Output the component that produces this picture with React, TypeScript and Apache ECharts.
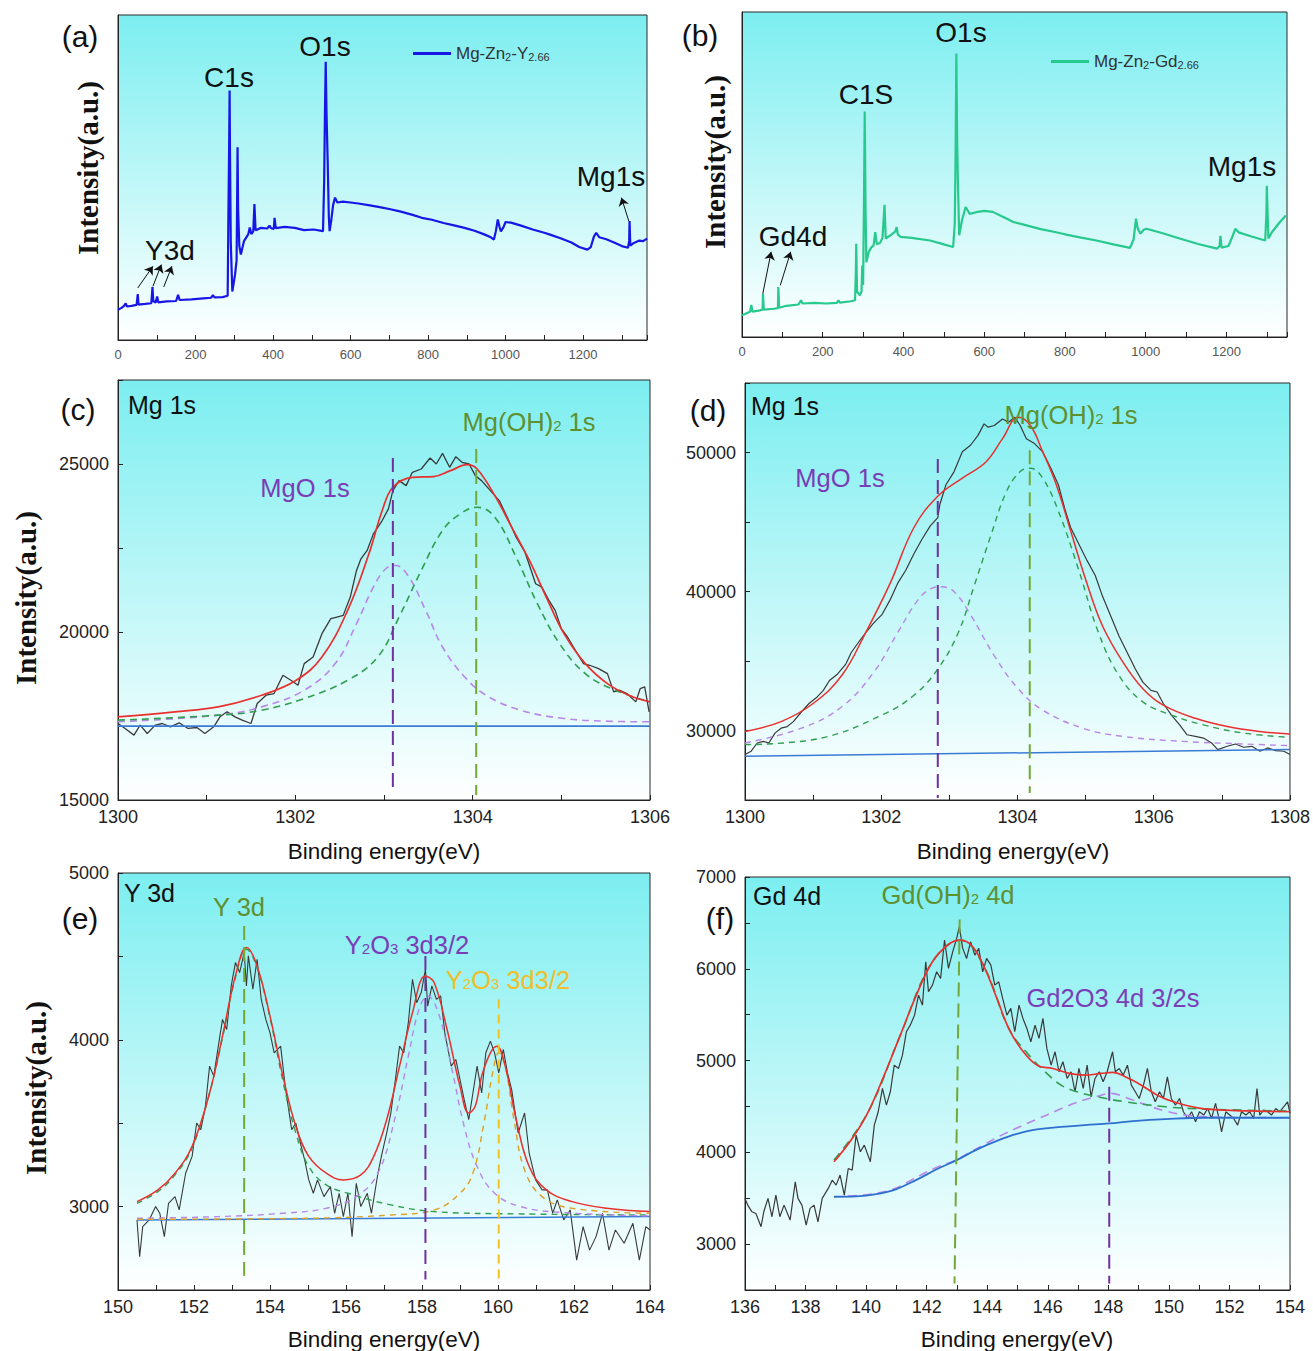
import React, { useEffect, useRef } from 'react';
import * as echarts from 'echarts';

type P = [number, number];

// ---------- (a) survey Mg-Zn2-Y2.66 (arbitrary intensity 0-100) ----------
const surveyA: P[] = [[0,9.3],[8,9.8],[15,10.4],[20,11.3],[23,10.3],[35,10.5],[48,10.8],[51,14.1],[53,10.9],[70,11.1],[86,11.3],[89,16.3],[91,12.0],[97,11.5],[101,13.4],[104,11.6],[125,11.9],[150,12.0],[155,13.9],[159,12.3],[190,12.5],[220,12.8],[240,13.0],[245,13.8],[249,13.1],[270,13.2],[283,13.6],[285,40.0],[287,62.4],[288,76.8],[289,58.0],[291,30.0],[295,14.9],[302,20.1],[306,24.5],[307.5,45.0],[308.5,59.3],[310,40.0],[313,29.0],[317,26.3],[325,30.4],[336,32.5],[340,34.6],[344,32.6],[349,33.4],[352,41.8],[355,33.8],[369,34.5],[385,34.3],[391,35.2],[395,34.4],[402,34.2],[404,37.6],[407,34.4],[430,34.8],[456,34.5],[480,33.8],[505,34.0],[529,33.5],[532,49.0],[534,70.0],[536,85.6],[538,70.0],[541,55.2],[544,38.0],[546,33.5],[550,36.6],[555,41.5],[560,43.8],[566,42.3],[580,42.6],[600,42.3],[620,42.0],[650,41.4],[675,40.9],[700,40.3],[730,39.5],[760,38.5],[784,37.6],[810,37.0],[840,36.0],[870,35.2],[894,34.5],[920,33.6],[945,32.5],[962,31.6],[970,30.9],[975,33.5],[980,37.1],[984,35.0],[988,33.4],[995,34.8],[1000,36.3],[1014,36.1],[1040,35.2],[1070,34.0],[1100,33.0],[1113,32.5],[1140,31.4],[1170,30.0],[1190,28.6],[1211,27.8],[1220,28.6],[1228,31.8],[1234,33.0],[1242,31.6],[1260,31.0],[1280,30.0],[1300,28.9],[1316,28.4],[1319,30.5],[1320,36.6],[1322,29.0],[1330,29.8],[1345,30.6],[1355,30.4],[1365,31.2]];
const arrowsA: [P, P][] = [[[51,16.0],[90,22.7]],[[90,16.5],[112,23.2]],[[118,16.3],[139,22.7]],[[1318,36.6],[1299,43.8]]];

// ---------- (b) survey Mg-Zn2-Gd2.66 ----------
const surveyB: P[] = [[0,6.7],[10,7.2],[20,7.8],[23,9.9],[26,7.8],[45,8.2],[51,8.5],[52,13.3],[54,8.4],[80,8.7],[89,8.9],[90,15.4],[92,9.0],[110,9.6],[140,10.0],[146,11.3],[150,10.3],[180,10.5],[208,10.3],[235,10.5],[239,11.3],[242,10.6],[270,11.0],[280,11.3],[282,20.0],[283,28.7],[285,14.0],[292,12.8],[296,14.0],[298,22.0],[300,16.0],[302,40.0],[304,69.4],[306,40.0],[308,23.0],[314,26.2],[320,27.5],[326,28.2],[330,32.3],[334,28.5],[342,29.0],[348,30.5],[353,40.7],[356,30.3],[370,31.5],[380,32.5],[383,33.8],[386,31.5],[393,30.8],[420,30.5],[466,29.7],[500,28.5],[523,27.7],[527,35.0],[529,55.0],[531,87.2],[533,60.0],[535,46.7],[538,31.3],[545,36.0],[554,40.0],[564,37.9],[580,38.4],[600,38.8],[621,38.5],[650,36.8],[672,35.4],[700,34.5],[740,33.2],[775,32.3],[800,31.6],[840,30.6],[878,29.7],[920,28.5],[961,27.4],[970,30.0],[976,36.4],[980,33.5],[987,31.8],[995,33.0],[1002,33.3],[1040,32.0],[1084,30.3],[1130,28.6],[1177,27.2],[1183,28.0],[1185,31.1],[1188,27.5],[1205,28.0],[1215,31.0],[1222,33.3],[1230,32.2],[1260,31.0],[1296,29.7],[1299,38.0],[1300,46.5],[1302,38.0],[1304,30.3],[1313,32.3],[1330,35.0],[1347,37.4]];
const arrowsB: [P, P][] = [[[51.5,13.3],[72.2,26.2]],[[94.8,15.9],[120.6,26.2]]];

// ---------- (c) Mg 1s (Y alloy) ----------
const rawC: P[] = [[1300.00,17277],[1300.08,17129],[1300.18,16931],[1300.25,17228],[1300.33,16980],[1300.42,17228],[1300.50,17277],[1300.59,17178],[1300.69,17297],[1300.79,17129],[1300.89,17158],[1300.98,16980],[1301.08,17178],[1301.15,17475],[1301.23,17624],[1301.32,17475],[1301.40,17376],[1301.50,17277],[1301.57,17871],[1301.67,18119],[1301.76,18168],[1301.86,18713],[1301.95,18564],[1302.03,18416],[1302.10,19059],[1302.20,19257],[1302.30,19950],[1302.40,20396],[1302.47,20446],[1302.54,20495],[1302.62,21040],[1302.69,21832],[1302.74,22178],[1302.81,22426],[1302.88,22921],[1302.98,23317],[1303.05,23663],[1303.10,24208],[1303.17,24505],[1303.25,24356],[1303.32,24752],[1303.42,24851],[1303.52,25178],[1303.59,25000],[1303.66,25317],[1303.74,24901],[1303.81,25218],[1303.88,25050],[1303.96,25000],[1304.03,24653],[1304.10,24505],[1304.20,24208],[1304.30,23911],[1304.39,23416],[1304.49,22822],[1304.59,22376],[1304.66,21832],[1304.71,21436],[1304.78,21337],[1304.86,20941],[1304.93,20644],[1305.00,20099],[1305.07,19851],[1305.17,19406],[1305.25,19059],[1305.32,19010],[1305.42,18911],[1305.52,18762],[1305.59,18218],[1305.66,18267],[1305.74,18168],[1305.84,17921],[1305.89,18317],[1305.94,18366],[1305.99,17624]];
const sumC: P[] = [[1300.00,17475],[1300.64,17624],[1301.13,17772],[1301.62,18119],[1302.01,18564],[1302.30,19257],[1302.59,20644],[1302.83,22327],[1302.98,23614],[1303.10,24307],[1303.32,24604],[1303.56,24624],[1303.75,24802],[1303.94,24980],[1304.05,24851],[1304.25,24059],[1304.44,23119],[1304.64,22129],[1304.83,21040],[1305.03,19950],[1305.27,19059],[1305.52,18465],[1305.76,18119],[1306.00,17921]];
const mgoC: P[] = [[1300.00,17327],[1301.13,17525],[1301.62,17772],[1302.10,18267],[1302.45,19059],[1302.69,20248],[1302.88,21337],[1303.02,21881],[1303.13,21980],[1303.27,21683],[1303.47,20644],[1303.66,19554],[1303.91,18663],[1304.15,18119],[1304.54,17673],[1305.03,17426],[1305.52,17346],[1306.00,17327]];
const mgohC: P[] = [[1300.00,17376],[1301.13,17525],[1301.62,17673],[1302.10,18020],[1302.59,18564],[1302.93,19257],[1303.17,20446],[1303.42,21832],[1303.66,23020],[1303.86,23515],[1304.05,23713],[1304.25,23416],[1304.49,22228],[1304.73,20842],[1304.98,19653],[1305.27,18762],[1305.61,18267],[1306.00,17921]];
const baseC: P[] = [[1300,17200],[1306,17200]];
const vMgoC: P[] = [[1303.10,25178],[1303.10,15277]];
const vMgohC: P[] = [[1304.04,25445],[1304.04,15149]];

// ---------- (d) Mg 1s (Gd alloy) ----------
const rawD: P[] = [[1300.00,28272],[1300.09,28509],[1300.18,29101],[1300.27,29219],[1300.35,29101],[1300.44,29811],[1300.53,30166],[1300.62,30284],[1300.71,30639],[1300.83,31349],[1300.94,31941],[1301.06,32414],[1301.15,32888],[1301.24,33598],[1301.36,34071],[1301.48,34781],[1301.56,35610],[1301.68,36438],[1301.77,37030],[1301.89,37740],[1302.01,38332],[1302.13,39397],[1302.24,40580],[1302.36,41527],[1302.48,42711],[1302.60,43776],[1302.72,44723],[1302.83,45314],[1302.86,46261],[1302.95,47681],[1303.07,48628],[1303.19,50048],[1303.31,50521],[1303.42,51231],[1303.51,52060],[1303.57,51822],[1303.66,51942],[1303.78,52415],[1303.87,52178],[1303.96,52534],[1304.04,51942],[1304.13,50995],[1304.25,50640],[1304.37,50048],[1304.49,48865],[1304.60,47681],[1304.69,46024],[1304.78,44604],[1304.90,43421],[1305.02,42237],[1305.14,41172],[1305.25,39633],[1305.37,38213],[1305.49,36793],[1305.61,35610],[1305.73,34426],[1305.84,33480],[1305.96,32888],[1306.05,32769],[1306.14,31941],[1306.26,31112],[1306.38,30402],[1306.49,29692],[1306.61,29574],[1306.73,29456],[1306.85,29101],[1306.94,28627],[1307.08,28864],[1307.20,29030],[1307.32,28793],[1307.44,28864],[1307.56,28509],[1307.67,28746],[1307.79,28556],[1307.91,28509],[1308.00,28272]];
const sumD: P[] = [[1300.00,29929],[1300.53,30639],[1301.00,31941],[1301.42,33953],[1301.77,37030],[1302.13,40580],[1302.48,44604],[1302.83,46853],[1303.19,48155],[1303.54,49338],[1303.78,50995],[1304.01,52534],[1304.19,51942],[1304.37,50048],[1304.57,47681],[1304.78,44367],[1305.02,40580],[1305.25,37503],[1305.55,34900],[1305.84,33006],[1306.14,31823],[1306.61,30876],[1307.08,30284],[1307.56,29929],[1308.00,29740]];
const mgoD: P[] = [[1300.00,29101],[1300.83,30166],[1301.42,31704],[1301.89,34190],[1302.24,37030],[1302.54,39397],[1302.74,40225],[1302.89,40344],[1303.07,39988],[1303.31,38332],[1303.66,35373],[1304.01,33006],[1304.37,31467],[1304.96,30166],[1305.55,29574],[1306.43,29219],[1307.32,29030],[1308.00,28911]];
const mgohD: P[] = [[1300.00,28982],[1301.12,29456],[1302.01,31112],[1302.48,32533],[1302.83,34426],[1303.13,37030],[1303.36,40344],[1303.60,43894],[1303.84,47208],[1304.04,48628],[1304.19,48865],[1304.37,48155],[1304.60,45788],[1304.90,41527],[1305.19,37030],[1305.49,33953],[1305.84,32059],[1306.26,31112],[1306.73,30402],[1307.32,29811],[1308.00,29503]];
const baseD: P[] = [[1300,28154],[1308,28627]];
const vMgoD: P[] = [[1302.83,49528],[1302.83,25148]];
const vMgohD: P[] = [[1304.18,50167],[1304.18,25503]];

// ---------- (e) Y 3d ----------
const rawE: P[] = [[150.50,2920],[150.57,2699],[150.65,2880],[150.82,2920],[150.99,3000],[151.10,2960],[151.22,2820],[151.33,3020],[151.50,3060],[151.61,2980],[151.78,3200],[151.95,3301],[152.07,3501],[152.18,3461],[152.30,3601],[152.41,3842],[152.52,3782],[152.64,3962],[152.75,4122],[152.86,4062],[152.98,4323],[153.09,4463],[153.20,4403],[153.32,4523],[153.38,4323],[153.43,4503],[153.55,4303],[153.66,4483],[153.77,4242],[153.89,4122],[154.00,4042],[154.11,3922],[154.28,3962],[154.40,3721],[154.57,3461],[154.68,3501],[154.80,3381],[154.91,3281],[155.02,3160],[155.14,3080],[155.25,3160],[155.42,3060],[155.59,3120],[155.70,2960],[155.82,3080],[155.93,2940],[156.05,3080],[156.16,2820],[156.27,3140],[156.39,3000],[156.56,3080],[156.67,2960],[156.84,3200],[156.95,3321],[157.07,3441],[157.18,3561],[157.30,3762],[157.41,3962],[157.52,3922],[157.64,4102],[157.75,4363],[157.86,4222],[157.98,4283],[158.09,4423],[158.15,4202],[158.26,4323],[158.38,4242],[158.49,4263],[158.60,4042],[158.77,3842],[158.89,3882],[159.00,3762],[159.11,3641],[159.23,3521],[159.34,3681],[159.45,3842],[159.57,3681],[159.68,3922],[159.80,3992],[159.91,3922],[160.02,3802],[160.14,3942],[160.25,3802],[160.36,3701],[160.53,3441],[160.70,3561],[160.82,3321],[160.99,3160],[161.16,3100],[161.30,3100],[161.44,2960],[161.56,3040],[161.73,2920],[161.90,2980],[162.07,2679],[162.24,2880],[162.41,2739],[162.58,2820],[162.75,2960],[162.92,2739],[163.09,2860],[163.32,2780],[163.55,2900],[163.72,2679],[163.89,2880],[164.00,2860]];
const sumE: P[] = [[150.50,3030],[151.05,3100],[151.50,3200],[151.95,3361],[152.41,3681],[152.75,4022],[153.09,4383],[153.38,4553],[153.66,4443],[154.00,4142],[154.34,3782],[154.68,3481],[155.02,3301],[155.48,3200],[155.93,3160],[156.39,3190],[156.73,3301],[157.07,3521],[157.41,3842],[157.75,4162],[158.09,4383],[158.32,4343],[158.66,4062],[159.00,3721],[159.23,3561],[159.40,3601],[159.57,3782],[159.80,3922],[159.97,3962],[160.19,3842],[160.48,3521],[160.82,3240],[161.27,3100],[161.95,3030],[162.86,2990],[164.00,2970]];
const y3dE: P[] = [[150.50,3020],[151.05,3090],[151.50,3190],[151.95,3351],[152.41,3681],[152.75,4012],[153.09,4373],[153.38,4543],[153.66,4433],[154.00,4132],[154.34,3752],[154.68,3441],[155.02,3240],[155.48,3130],[156.05,3080],[157.18,3010],[158.32,2970],[160.59,2956],[164.00,2950]];
const y2o3aE: P[] = [[150.50,2930],[152.64,2940],[154.34,2960],[155.48,2990],[156.27,3060],[156.84,3200],[157.30,3541],[157.64,3902],[157.92,4182],[158.15,4263],[158.43,4162],[158.77,3842],[159.11,3481],[159.45,3240],[159.91,3080],[160.59,3000],[161.73,2964],[164.00,2944]];
const y2o3bE: P[] = [[150.50,2924],[155.00,2930],[157.18,2950],[158.32,2980],[159.00,3080],[159.34,3200],[159.63,3501],[159.86,3802],[160.02,3922],[160.19,3842],[160.42,3521],[160.70,3220],[161.16,3060],[161.95,2990],[164.00,2960]];
const baseE: P[] = [[150.5,2920],[164,2940]];
const vY3dE: P[] = [[153.32,4683],[153.32,2555]];
const vY2o3aE: P[] = [[158.09,4503],[158.09,2563]];
const vY2o3bE: P[] = [[160.02,4242],[160.02,2555]];

// ---------- (f) Gd 4d ----------
const rawF: P[] = [[136.00,3498],[136.09,3425],[136.23,3352],[136.36,3334],[136.53,3189],[136.62,3352],[136.76,3498],[136.89,3298],[137.02,3534],[137.15,3298],[137.29,3425],[137.49,3262],[137.66,3679],[137.75,3498],[137.88,3425],[138.02,3207],[138.15,3389],[138.28,3425],[138.41,3243],[138.55,3498],[138.75,3607],[138.88,3697],[139.01,3643],[139.14,3752],[139.28,3534],[139.41,3824],[139.54,3806],[139.67,4188],[139.81,4006],[139.94,4079],[140.14,3897],[140.27,4297],[140.40,4442],[140.54,4696],[140.67,4515],[140.80,4660],[140.93,4950],[141.07,4914],[141.20,5059],[141.33,5314],[141.46,5386],[141.60,5495],[141.73,5713],[141.86,5604],[141.97,6076],[142.06,5749],[142.19,5822],[142.33,5967],[142.46,5895],[142.59,6312],[142.72,6004],[142.86,6185],[142.99,6331],[143.08,6458],[143.19,6222],[143.32,6113],[143.45,6294],[143.59,6149],[143.72,6222],[143.85,5967],[143.98,6113],[144.12,6040],[144.25,5822],[144.38,5858],[144.51,5677],[144.65,5495],[144.78,5568],[144.91,5314],[145.05,5604],[145.18,5459],[145.31,5350],[145.44,5205],[145.58,5386],[145.71,5241],[145.84,5459],[145.97,5132],[146.11,4950],[146.24,5096],[146.37,4878],[146.50,4987],[146.64,4805],[146.77,4878],[146.90,4660],[147.03,4914],[147.17,4696],[147.30,4950],[147.43,4605],[147.56,4805],[147.70,4878],[147.83,4769],[147.96,4878],[148.14,5096],[148.23,4878],[148.36,4914],[148.49,4841],[148.63,4950],[148.76,4732],[148.89,4660],[149.02,4587],[149.16,4732],[149.29,4914],[149.42,4660],[149.55,4551],[149.69,4660],[149.82,4587],[149.95,4823],[150.08,4587],[150.22,4515],[150.35,4587],[150.48,4442],[150.62,4369],[150.75,4442],[150.88,4333],[151.01,4442],[151.15,4406],[151.28,4478],[151.41,4369],[151.54,4533],[151.68,4333],[151.74,4224],[151.88,4442],[152.01,4406],[152.14,4369],[152.27,4297],[152.40,4442],[152.54,4406],[152.67,4442],[152.80,4369],[152.91,4696],[153.00,4406],[153.13,4460],[153.26,4442],[153.39,4406],[153.53,4478],[153.66,4442],[153.79,4496],[153.92,4551],[154.00,4424]];
const sumF: P[] = [[138.94,3897],[139.54,4151],[140.07,4442],[140.60,4842],[141.13,5277],[141.66,5713],[142.19,6076],[142.72,6265],[143.12,6312],[143.52,6240],[143.92,6004],[144.32,5677],[144.71,5350],[145.11,5132],[145.64,4950],[146.17,4914],[146.70,4860],[147.23,4841],[147.76,4860],[148.15,4871],[148.56,4823],[149.09,4732],[149.62,4623],[150.15,4551],[150.95,4485],[151.87,4460],[152.93,4449],[154.00,4442]];
const gdohF: P[] = [[138.94,3915],[140.07,4442],[141.13,5277],[142.19,6076],[143.12,6312],[143.92,6004],[144.71,5350],[145.38,5059],[145.91,4878],[146.44,4732],[146.97,4660],[147.63,4605],[148.56,4551],[149.89,4496],[151.21,4471],[154.00,4449]];
const gd2o3F: P[] = [[139.40,3525],[139.90,3535],[140.40,3558],[140.90,3600],[141.40,3680],[141.90,3770],[142.40,3845],[142.90,3905],[143.40,3995],[143.90,4085],[144.40,4175],[144.98,4265],[145.64,4360],[146.30,4455],[146.97,4545],[147.63,4610],[148.10,4642],[148.56,4600],[149.22,4520],[149.89,4450],[150.68,4400],[151.87,4382],[154.00,4377]];
const baseF: P[] = [[138.94,3516],[139.67,3520],[140.34,3545],[141.00,3600],[141.66,3700],[142.33,3815],[142.99,3915],[143.65,4030],[144.32,4125],[144.98,4200],[145.64,4250],[146.57,4280],[147.23,4297],[148.03,4315],[148.82,4340],[149.89,4362],[151.21,4377],[154.00,4377]];
const vGdohF: P[] = [[143.09,6538],[142.92,2571]];
const vGd2o3F: P[] = [[148.03,4714],[148.03,2571]];

const FONT = "'Liberation Sans', Arial, Helvetica, sans-serif";
const SERIF = "'Liberation Serif', 'Times New Roman', serif";

const C_RAW = '#3a3a3a';
const C_RED = '#E8302E';
const C_BLUE = '#3A7BD5';
const C_LAV = '#B886E8';
const C_GRN = '#2F9E4E';
const C_ORG = '#DDA024';
const C_VPUR = '#7030A0';
const C_VGRN = '#72A834';
const C_VGOLD = '#F3C21E';
const T_PUR = '#7A3DB8';
const T_GRN = '#5E9030';
const T_GOLD = '#F0BE2A';

function bg() {
  return new echarts.graphic.LinearGradient(0, 0, 0, 1, [
    { offset: 0, color: '#7CEEF0' },
    { offset: 1, color: '#FFFFFF' },
  ]);
}

function grid(left: number, top: number, width: number, height: number) {
  return { left, top, width, height, show: true, backgroundColor: bg(), borderColor: '#2a2a2a', borderWidth: 1, containLabel: false };
}

function xAx(gi: number, min: number, max: number, interval: number, every: number, fontSize: number, color: string) {
  return {
    gridIndex: gi, type: 'value', min, max, interval,
    axisLine: { show: true, onZero: false, lineStyle: { color: '#222', width: 1 } },
    axisTick: { show: true, inside: true, length: 5, lineStyle: { color: '#222' } },
    axisLabel: { color, fontSize, fontFamily: FONT, margin: 8, formatter: (v: number) => (Math.abs(v % every) < 1e-6 ? String(v) : '') },
    splitLine: { show: false },
  };
}

function yAx(gi: number, min: number, max: number, interval: number | undefined, every: number, show: boolean) {
  return {
    gridIndex: gi, type: 'value', min, max, interval,
    axisLine: { show: true, onZero: false, lineStyle: { color: '#222', width: 1 } },
    axisTick: { show, inside: true, length: 5, lineStyle: { color: '#222' } },
    axisLabel: { show, color: '#222', fontSize: 18, fontFamily: FONT, margin: 9, formatter: (v: number) => (Math.abs(v % every) < 1e-6 ? String(v) : '') },
    splitLine: { show: false },
  };
}

function line(gi: number, data: P[], color: string, width: number, dash?: any, smooth?: boolean, name?: string) {
  return {
    type: 'line', name, xAxisIndex: gi, yAxisIndex: gi, data, showSymbol: false, symbol: 'none', silent: true,
    smooth: smooth ? 0.4 : false,
    lineStyle: { color, width, type: dash || 'solid' },
    itemStyle: { color },
    z: 3,
  };
}

function arrows(list: [P, P][]) {
  return {
    silent: true, symbol: ['none', 'arrow'], symbolSize: 8,
    label: { show: false },
    lineStyle: { color: '#111', width: 1, type: 'solid' },
    data: list.map(([a, b]) => [{ coord: a }, { coord: b }]),
  };
}

function txt(x: number, y: number, text: string, size: number, fill: string, extra: any = {}) {
  return {
    type: 'text', x, y, silent: true, z: 100, rotation: extra.rotation || 0,
    style: {
      text, fill, fontSize: size, fontFamily: extra.family || FONT, fontWeight: extra.weight || 'normal',
      align: extra.align || 'center', verticalAlign: 'middle',
      textAlign: extra.align || 'center', textVerticalAlign: 'middle',
      rich: extra.rich,
    },
  };
}

function subRich(size: number, color: string) {
  return {
    a: { fontSize: size, fontFamily: FONT, fill: color, color, verticalAlign: 'bottom' },
    b: { fontSize: Math.round(size * 0.6), fontFamily: FONT, fill: color, color, verticalAlign: 'bottom', padding: [0, 0, 2, 0] },
  };
}

function buildOption(): any {
  const series: any[] = [];
  const sA = line(0, surveyA, '#1616E6', 2.2, undefined, false, 'A');
  (sA as any).markLine = arrows(arrowsA);
  series.push(sA);
  const sB = line(1, surveyB, '#27C98C', 2.2, undefined, false, 'B');
  (sB as any).markLine = arrows(arrowsB);
  series.push(sB);

  // (c)
  series.push(line(2, rawC, C_RAW, 1.3));
  series.push(line(2, baseC, C_BLUE, 1.6));
  series.push(line(2, mgoC, C_LAV, 1.6, [7, 5], true));
  series.push(line(2, mgohC, C_GRN, 1.6, [7, 5], true));
  series.push(line(2, sumC, C_RED, 1.7, undefined, true));
  series.push(line(2, vMgoC, C_VPUR, 2, [14, 7]));
  series.push(line(2, vMgohC, C_VGRN, 2, [14, 7]));
  // (d)
  series.push(line(3, rawD, C_RAW, 1.2));
  series.push(line(3, baseD, C_BLUE, 1.5));
  series.push(line(3, mgoD, C_LAV, 1.4, [6, 5], true));
  series.push(line(3, mgohD, C_GRN, 1.4, [6, 5], true));
  series.push(line(3, sumD, C_RED, 1.5, undefined, true));
  series.push(line(3, vMgoD, C_VPUR, 2, [14, 7]));
  series.push(line(3, vMgohD, C_VGRN, 2, [14, 7]));
  // (e)
  series.push(line(4, rawE, C_RAW, 1.1));
  series.push(line(4, baseE, C_BLUE, 1.5));
  series.push(line(4, y3dE, C_GRN, 1.4, [6, 5], true));
  series.push(line(4, y2o3aE, C_LAV, 1.4, [6, 5], true));
  series.push(line(4, y2o3bE, C_ORG, 1.4, [6, 5], true));
  series.push(line(4, sumE, C_RED, 1.5, undefined, true));
  series.push(line(4, vY3dE, C_VGRN, 2, [14, 7]));
  series.push(line(4, vY2o3aE, C_VPUR, 2, [14, 7]));
  series.push(line(4, vY2o3bE, C_VGOLD, 2, [9, 6]));
  // (f)
  series.push(line(5, rawF, C_RAW, 1.2));
  series.push(line(5, gd2o3F, C_LAV, 1.6, [9, 6], true));
  series.push(line(5, baseF, '#2F6FD0', 1.8, undefined, true));
  series.push(line(5, gdohF, C_GRN, 1.6, [9, 6], true));
  series.push(line(5, sumF, C_RED, 1.7, undefined, true));
  series.push(line(5, vGdohF, C_VGRN, 2, [14, 7]));
  series.push(line(5, vGd2o3F, C_VPUR, 2, [14, 7]));

  const NARROW = "'Liberation Sans Narrow', 'Liberation Sans', Arial";
  const legendRich = {
    n: { fontSize: 17, fontFamily: NARROW, color: '#333', verticalAlign: 'bottom' },
    s: { fontSize: 11, fontFamily: NARROW, color: '#333', verticalAlign: 'bottom' },
  };

  const IT = { rotation: Math.PI / 2, family: SERIF, weight: 'bold' };
  const graphic: any[] = [
    // panel letters
    txt(80, 36, '(a)', 30, '#111'),
    txt(700, 35, '(b)', 30, '#111'),
    txt(78, 409, '(c)', 30, '#111'),
    txt(708, 410, '(d)', 30, '#111'),
    txt(80, 918, '(e)', 30, '#111'),
    txt(720, 918, '(f)', 30, '#111'),
    // y titles
    txt(88, 168, 'Intensity(a.u.)', 29, '#111', IT),
    txt(715, 162, 'Intensity(a.u.)', 29, '#111', IT),
    txt(26, 598, 'Intensity(a.u.)', 29, '#111', IT),
    txt(36, 1088, 'Intensity(a.u.)', 29, '#111', IT),
    // x titles
    txt(384, 851, 'Binding energy(eV)', 22.5, '#111'),
    txt(1013, 851, 'Binding energy(eV)', 22.5, '#111'),
    txt(384, 1339, 'Binding energy(eV)', 22.5, '#111'),
    txt(1017, 1339, 'Binding energy(eV)', 22.5, '#111'),
    // (a) annotations
    txt(229, 77, 'C1s', 28, '#111'),
    txt(325, 46, 'O1s', 28, '#111'),
    txt(611, 176, 'Mg1s', 28, '#111'),
    txt(170, 250, 'Y3d', 28, '#111'),
    // (b) annotations
    txt(866, 94, 'C1S', 28, '#111'),
    txt(961, 32, 'O1s', 28, '#111'),
    txt(1242, 166, 'Mg1s', 28, '#111'),
    txt(793, 236, 'Gd4d', 28, '#111'),
    // (c)
    txt(128, 405, 'Mg 1s', 25, '#111', { align: 'left' }),
    txt(305, 488, 'MgO 1s', 25.5, T_PUR),
    txt(529, 422, '{a|Mg(OH)}{b|2}{a| 1s}', 25.5, T_GRN, { rich: subRich(25.5, T_GRN) }),
    // (d)
    txt(751, 406, 'Mg 1s', 25, '#111', { align: 'left' }),
    txt(840, 478, 'MgO 1s', 25.5, T_PUR),
    txt(1071, 415, '{a|Mg(OH)}{b|2}{a| 1s}', 25.5, T_GRN, { rich: subRich(25.5, T_GRN) }),
    // (e)
    txt(124, 893, 'Y 3d', 25, '#111', { align: 'left' }),
    txt(239, 907, 'Y 3d', 25.5, T_GRN),
    txt(407, 945, '{a|Y}{b|2}{a|O}{b|3}{a| 3d3/2}', 25.5, T_PUR, { rich: subRich(25.5, T_PUR) }),
    txt(508, 980, '{a|Y}{b|2}{a|O}{b|3}{a| 3d3/2}', 25.5, T_GOLD, { rich: subRich(25.5, T_GOLD) }),
    // (f)
    txt(753, 896, 'Gd 4d', 25, '#111', { align: 'left' }),
    txt(948, 895, '{a|Gd(OH)}{b|2}{a| 4d}', 25.5, T_GRN, { rich: subRich(25.5, T_GRN) }),
    txt(1113, 998, 'Gd2O3 4d 3/2s', 25.5, T_PUR),
  ];

  return {
    animation: false,
    backgroundColor: '#ffffff',
    textStyle: { fontFamily: FONT },
    grid: [
      grid(118, 15, 529, 325),
      grid(742, 12, 545, 325),
      grid(118, 380, 532, 420),
      grid(745, 383, 545, 417),
      grid(118, 873, 532, 417),
      grid(745, 877, 545, 413),
    ],
    xAxis: [
      xAx(0, 0, 1365, 100, 200, 13, '#555'),
      xAx(1, 0, 1350, 100, 200, 13, '#555'),
      xAx(2, 1300, 1306, 1, 2, 18, '#222'),
      xAx(3, 1300, 1308, 1, 2, 18, '#222'),
      xAx(4, 150, 164, 1, 2, 18, '#222'),
      xAx(5, 136, 154, 1, 2, 18, '#222'),
    ],
    yAxis: [
      yAx(0, 0, 100, undefined, 1, false),
      yAx(1, 0, 100, undefined, 1, false),
      yAx(2, 15000, 27500, 2500, 5000, true),
      yAx(3, 25000, 55000, 5000, 10000, true),
      yAx(4, 2500, 5000, 500, 1000, true),
      yAx(5, 2500, 7000, 500, 1000, true),
    ],
    legend: [
      {
        left: 408, top: 40, data: ['A'], icon: 'rect', itemWidth: 38, itemHeight: 3, itemGap: 4,
        selectedMode: false, formatter: () => '{n|Mg-Zn}{s|2}{n|-Y}{s|2.66}', textStyle: { rich: legendRich },
      },
      {
        left: 1046, top: 48, data: ['B'], icon: 'rect', itemWidth: 38, itemHeight: 3, itemGap: 4,
        selectedMode: false, formatter: () => '{n|Mg-Zn}{s|2}{n|-Gd}{s|2.66}', textStyle: { rich: legendRich },
      },
    ],
    series,
    graphic,
  };
}

export default function App() {
  const ref = useRef<HTMLDivElement>(null);
  useEffect(() => {
    if (!ref.current) return;
    const chart = echarts.init(ref.current, null, { renderer: 'svg' });
    chart.setOption(buildOption());
    return () => chart.dispose();
  }, []);
  return (
    <div
      ref={ref}
      style={{ position: 'absolute', left: 0, top: 0, width: 1313, height: 1351, background: '#ffffff' }}
    />
  );
}
